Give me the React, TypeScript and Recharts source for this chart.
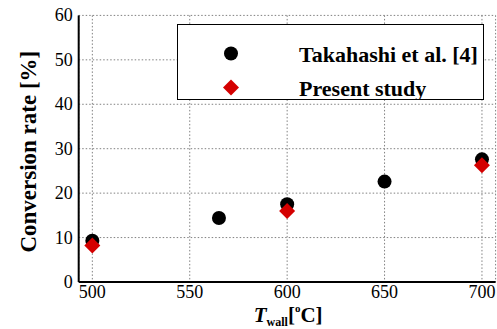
import React from 'react'
import {
  ScatterChart,
  Scatter,
  XAxis,
  YAxis,
  CartesianGrid,
  Legend,
} from 'recharts'

// wall temperature [°C] / conversion rate [%]
const takahashiTemps = [500, 565, 600, 650, 700]
const takahashiRates = [9.3, 14.4, 17.5, 22.6, 27.6]
const presentTemps = [500, 600, 700]
const presentRates = [8.2, 16.0, 26.3]

const xTicks = [500, 550, 600, 650, 700]
const xMinorTicks = [510, 520, 530, 540, 560, 570, 580, 590, 610, 620, 630, 640, 660, 670, 680, 690]
const yTicks = [0, 10, 20, 30, 40, 50, 60]
const yMinorTicks = [2, 4, 6, 8, 12, 14, 16, 18, 22, 24, 26, 28, 32, 34, 36, 38, 42, 44, 46, 48, 52, 54, 56, 58]

const seriesNames = ['Takahashi et al. [4]', 'Present study']

const takahashiData = takahashiTemps.map((t, i) => ({ x: t, y: takahashiRates[i] }))
const presentData = presentTemps.map((t, i) => ({ x: t, y: presentRates[i] }))

const RED = '#d40000'
const FONT = '"Liberation Serif", "Times New Roman", serif'
const serif = { fontFamily: FONT }
const xDomain: [number, number] = [493, 707]
const yDomain: [number, number] = [0, 60]

const Dot = (props: any) => <circle cx={props.cx} cy={props.cy} r={7} fill="#000" />

const Diamond = (props: any) => {
  const { cx, cy } = props
  const h = 8
  return <polygon points={`${cx},${cy - h} ${cx + h},${cy} ${cx},${cy + h} ${cx - h},${cy}`} fill={RED} />
}

const renderXTick = (props: any) => (
  <text key={props.index} x={props.x} y={props.y + 16} textAnchor="middle" style={serif} fontSize={18} fill="#000">
    {props.payload.value}
  </text>
)

const renderYTick = (props: any) => (
  <text key={props.index} x={props.x - 6} y={props.y + 6} textAnchor="end" style={serif} fontSize={18} fill="#000">
    {props.payload.value}
  </text>
)

const YLabel = (props: any) => {
  const vb = props.viewBox
  const cx = vb.x + 20.7
  const cy = vb.y + vb.height / 2 + 3
  return (
    <text
      x={cx}
      y={cy}
      transform={`rotate(-90 ${cx} ${cy})`}
      textAnchor="middle"
      dominantBaseline="central"
      style={serif}
      fontWeight="bold"
      fontSize={23}
      fill="#000"
    >
      Conversion rate [%]
    </text>
  )
}

const XLabel = (props: any) => {
  const vb = props.viewBox
  return (
    <text
      x={vb.x + vb.width / 2 + 1}
      y={vb.y + 39.5}
      textAnchor="middle"
      style={serif}
      fontWeight="bold"
      fontSize={21}
      fill="#000"
    >
      <tspan fontStyle="italic">T</tspan>
      <tspan fontSize={12} dy={4}>wall</tspan>
      <tspan dy={-4}>[</tspan>
      <tspan fontSize={11} dy={-10}>o</tspan>
      <tspan dy={10}>C]</tspan>
    </text>
  )
}

const LegendBox = () => (
  <svg width={307} height={76} style={{ display: 'block' }}>
    <rect x={0.5} y={0.5} width={306} height={75} fill="#fff" stroke="#000" strokeWidth={1} />
    {seriesNames.map((name, i) => {
      const cy = 29.5 + i * 34
      return (
        <g key={name}>
          {i === 0 ? <Dot cx={54} cy={cy} /> : <Diamond cx={54} cy={cy} />}
          <text x={122} y={cy + 8} style={serif} fontWeight="bold" fontSize={22} fill="#000">
            {name}
          </text>
        </g>
      )
    })}
  </svg>
)

export default function App() {
  return (
    <div style={{ position: 'absolute', left: 0, top: 0, background: '#fff' }}>
      <ScatterChart width={497} height={329} margin={{ top: 15.4, right: 1.4, bottom: 0, left: 8 }}>
        <CartesianGrid stroke="#808080" strokeDasharray="1.5 2" />
        <XAxis
          type="number"
          dataKey="x"
          domain={xDomain}
          ticks={xTicks}
          allowDataOverflow
          height={47}
          tickLine={false}
          tickSize={0}
          tickMargin={0}
          tick={renderXTick}
          axisLine={{ stroke: '#000', strokeWidth: 2 }}
          label={<XLabel />}
        />
        <XAxis
          xAxisId="minor"
          type="number"
          domain={xDomain}
          ticks={xMinorTicks}
          allowDataOverflow
          mirror
          height={0}
          tickSize={5}
          tick={false}
          axisLine={false}
          tickLine={{ stroke: '#000', strokeWidth: 1.5 }}
        />
        <XAxis
          xAxisId="major"
          type="number"
          domain={xDomain}
          ticks={xTicks}
          allowDataOverflow
          mirror
          height={0}
          tickSize={8}
          tick={false}
          axisLine={false}
          tickLine={{ stroke: '#000', strokeWidth: 1.5 }}
        />
        <XAxis
          xAxisId="top"
          orientation="top"
          type="number"
          domain={xDomain}
          allowDataOverflow
          height={0}
          tick={false}
          tickLine={false}
          axisLine={{ stroke: '#000', strokeWidth: 2 }}
        />
        <YAxis
          type="number"
          dataKey="y"
          domain={yDomain}
          ticks={yTicks}
          allowDataOverflow
          width={70.7}
          tickLine={false}
          tickSize={0}
          tickMargin={0}
          tick={renderYTick}
          axisLine={{ stroke: '#000', strokeWidth: 2 }}
          label={<YLabel />}
        />
        <YAxis
          yAxisId="minor"
          type="number"
          domain={yDomain}
          ticks={yMinorTicks}
          allowDataOverflow
          mirror
          width={0}
          tickSize={4}
          tick={false}
          axisLine={false}
          tickLine={{ stroke: '#000', strokeWidth: 1.5 }}
        />
        <YAxis
          yAxisId="major"
          type="number"
          domain={yDomain}
          ticks={yTicks}
          allowDataOverflow
          mirror
          width={0}
          tickSize={8}
          tick={false}
          axisLine={false}
          tickLine={{ stroke: '#000', strokeWidth: 1.5 }}
        />
        <YAxis
          yAxisId="right"
          orientation="right"
          type="number"
          domain={yDomain}
          allowDataOverflow
          width={0}
          tick={false}
          tickLine={false}
          axisLine={{ stroke: '#000', strokeWidth: 2 }}
        />
        <Legend
          layout="vertical"
          align="center"
          verticalAlign="middle"
          content={<LegendBox />}
          wrapperStyle={{ top: 24, left: 177, width: 307, height: 76, right: 'auto', bottom: 'auto' }}
        />
        <Scatter name={seriesNames[0]} data={takahashiData} shape={<Dot />} isAnimationActive={false} />
        <Scatter name={seriesNames[1]} data={presentData} shape={<Diamond />} isAnimationActive={false} />
      </ScatterChart>
    </div>
  )
}
